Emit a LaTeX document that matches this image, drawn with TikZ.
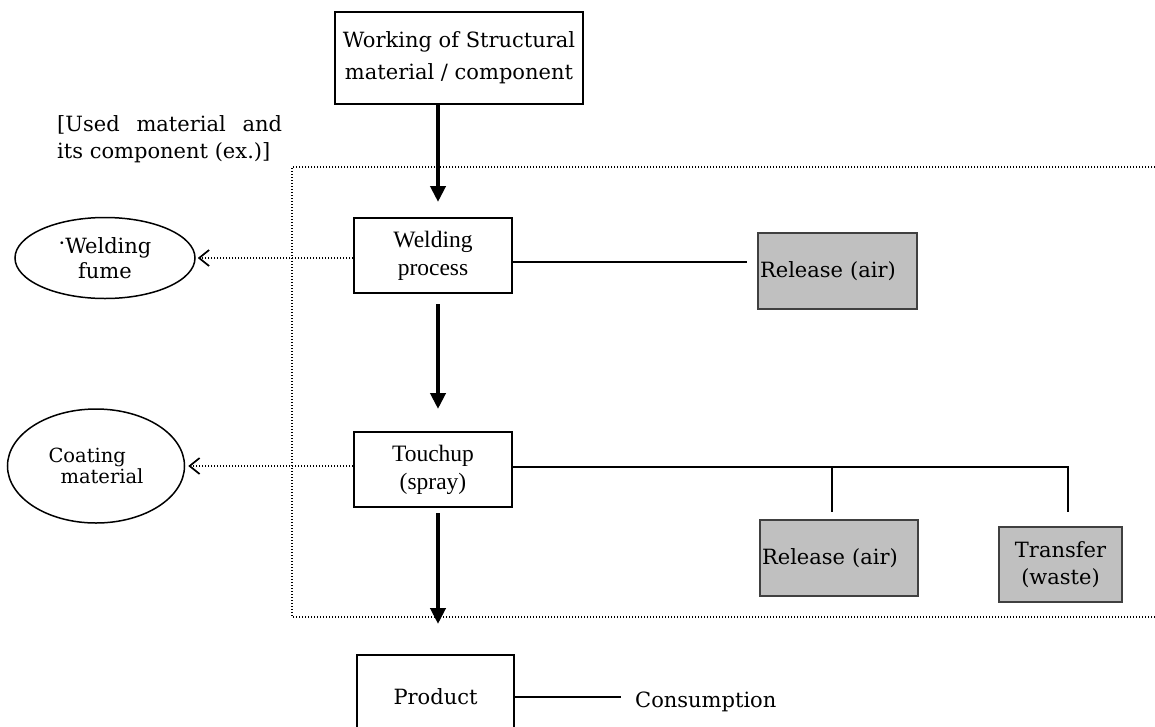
\documentclass[tikz,border=0pt]{standalone}
\usepackage{fontspec}
\setmainfont{DejaVu Serif}
\newfontfamily\boxfont{Liberation Serif}
\usetikzlibrary{arrows.meta,shapes.geometric}
\definecolor{boxgray}{HTML}{C0C0C0}
\definecolor{edgegray}{HTML}{404040}

\tikzset{
  txt/.style={font=\fontsize{21}{27}\selectfont},
  mainbox/.style={draw, line width=2pt, inner sep=0pt, align=center},
  procbox/.style={draw, line width=2pt, minimum width=158pt, minimum height=75pt,
    inner sep=0pt, align=center, font=\boxfont\fontsize{23.5}{28}\selectfont},
  outbox/.style={draw=edgegray, fill=boxgray, line width=1.5pt, inner sep=0pt, txt},
  inputell/.style={draw, ellipse, line width=1.5pt, inner sep=0pt, align=center},
  flow/.style={line width=4.5pt, -{Triangle[length=16pt,width=15pt]}},
  dotline/.style={line width=1.2pt, dash pattern=on 1.2pt off 1.8pt},
  dotarrow/.style={dotline, -{Straight Barb[length=10pt,width=16pt,line width=1.7pt]}},
  link/.style={line width=1.8pt},
}

\begin{document}
\begin{tikzpicture}[x=1pt,y=-1pt]
\useasboundingbox (0,0) rectangle (1155,726);

% boundary of the process area
\draw[dotline] (1155,167) -- (292,167) -- (292,617) -- (1155,617);

% main process nodes
\node[mainbox, txt, font=\fontsize{21}{32}\selectfont, minimum width=248pt, minimum height=92pt]
  (work) at (459,58) {Working of Structural\\material / component};
\node[txt, anchor=north west, inner sep=0pt, text width=225pt, align=justify]
  (used) at (57,115) {[Used material and\linebreak its component (ex.)]};
\node[procbox] (weld) at (433,255.5) {Welding\\process};
\node[procbox] (touch) at (433,469.5) {Touchup\\(spray)};
\node[mainbox, txt, minimum width=157pt, minimum height=84pt] (product) at (435.5,697) {Product};
\node[txt, anchor=west, inner sep=0pt] (consume) at (635,702) {Consumption};

% input materials
\node[inputell, txt, font=\fontsize{21}{25}\selectfont, minimum width=180pt, minimum height=81pt]
  (fume) at (105,258) {\raisebox{3pt}{·}Welding\\fume};
\node[inputell, txt, font=\fontsize{19.5}{21}\selectfont, align=left, minimum width=177pt, minimum height=114pt]
  (coat) at (96,466) {Coating\\\hspace*{12pt}material};

% outputs
\node[outbox, text width=155pt, align=left, minimum width=159pt, minimum height=76pt]
  (rel1) at (837.5,271) {Release (air)};
\node[outbox, text width=154pt, align=left, minimum width=158pt, minimum height=76pt]
  (rel2) at (839,558) {Release (air)};
\node[outbox, align=center, minimum width=123pt, minimum height=75pt]
  (waste) at (1060.5,564.5) {Transfer\\(waste)};

% connector end points
\coordinate (r1end) at (747,262);
\coordinate (tcorner) at (1068,467);
\coordinate (tdrop) at (1068,512);
\coordinate (tmid) at (832,467);
\coordinate (tmiddrop) at (832,512);
\coordinate (cend) at (621,697);

% main flow
\draw[flow, shorten >=15pt] ([xshift=5pt]weld.north |- work.south) -- ([xshift=5pt]weld.north);
\draw[flow, shorten <=10pt, shorten >=22pt] ([xshift=5pt]weld.south) -- ([xshift=5pt]touch.north);
\draw[flow, shorten <=5pt, shorten >=30pt] ([xshift=5pt]touch.south) -- ([xshift=2.5pt]product.north);

% material inputs
\draw[dotarrow] (fume.east -| weld.west) -- ([xshift=2pt]fume.east);
\draw[dotarrow] (coat.east -| touch.west) -- ([xshift=3pt]coat.east);

% releases and transfers
\draw[link] (weld.east |- r1end) -- (r1end);
\draw[link] (touch.east |- tcorner) -- (tcorner) -- (tdrop);
\draw[link] (tmid) -- (tmiddrop);
\draw[link] (product.east |- cend) -- (cend);
\end{tikzpicture}
\end{document}
